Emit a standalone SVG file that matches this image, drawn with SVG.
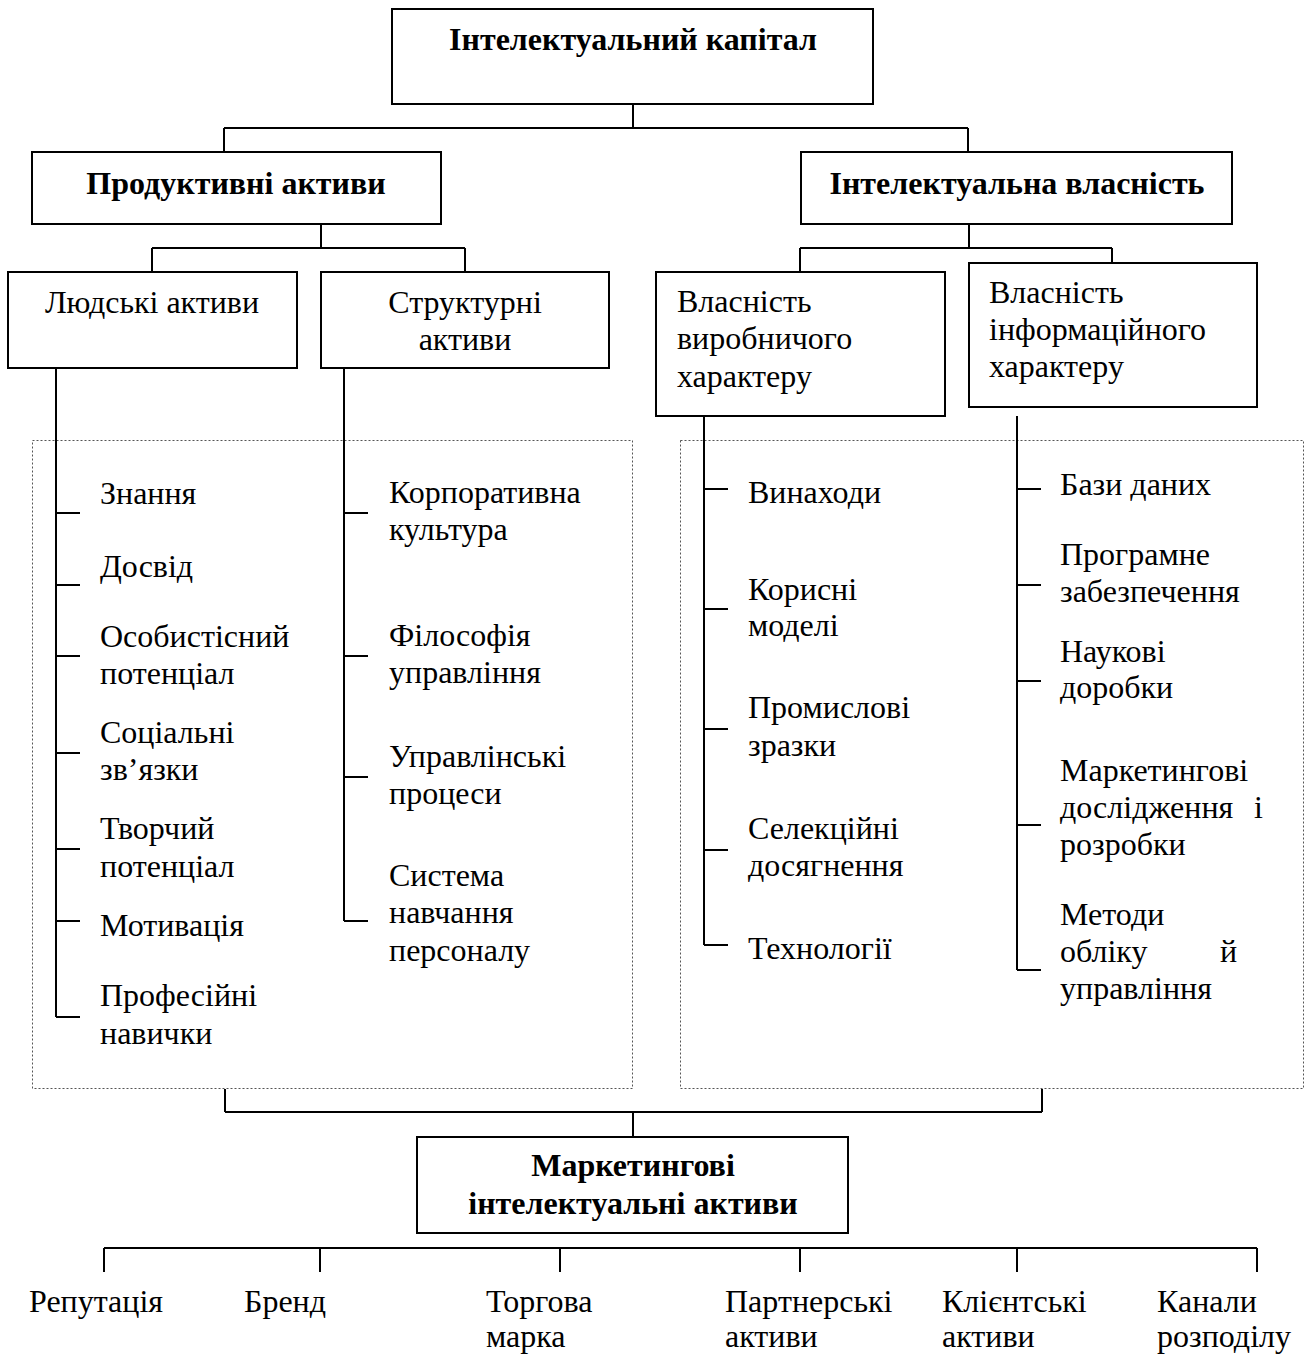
<svg xmlns="http://www.w3.org/2000/svg" width="1306" height="1355" viewBox="0 0 1306 1355">
<style>
text{font-family:"Liberation Serif","Times New Roman",serif;font-size:32px;fill:#000}
.b{font-weight:bold}
.c{text-anchor:middle}
.box{fill:#fff;stroke:#000;stroke-width:2}
.dot{fill:none;stroke:#555;stroke-width:1;stroke-dasharray:2 2}
.ln{fill:none;stroke:#000;stroke-width:2}
</style>
<rect width="1306" height="1355" fill="#fff"/>
<g id="groups">
<rect class="dot" x="32.5" y="440.5" width="600" height="648"/>
<rect class="dot" x="680.5" y="440.5" width="623" height="648"/>
</g>
<g id="connectors">
<path class="ln" d="M633 104V128M224 128H968M224 128V152M968 128V152"/>
<path class="ln" d="M321 224V248M152 248H465M152 248V272M465 248V272"/>
<path class="ln" d="M969 224V248M800 248H1112M800 248V272M1112 248V272"/>
<path class="ln" d="M56 368V1017M56 513H80M56 585H80M56 656H80M56 753H80M56 849H80M56 921H80M56 1017H80"/>
<path class="ln" d="M344 368V921M344 513H368M344 656H368M344 777H368M344 921H368"/>
<path class="ln" d="M704 416V945M704 489H728M704 609H728M704 729H728M704 850H728M704 945H728"/>
<path class="ln" d="M1017 416V970M1017 489H1041M1017 585H1041M1017 681H1041M1017 825H1041M1017 970H1041"/>
<path class="ln" d="M225 1089V1112M1042 1089V1112M225 1112H1042M633 1112V1137"/>
<path class="ln" d="M104 1248H1257M104 1248V1272M320 1248V1272M560 1248V1272M800 1248V1272M1017 1248V1272M1257 1248V1272"/>
</g>
<g id="n-root"><rect class="box" x="392" y="9" width="481" height="95"/><text class="b c" x="633" y="50">Інтелектуальний капітал</text></g>
<g id="n-prod"><rect class="box" x="32" y="152" width="409" height="72"/><text class="b c" x="236" y="194">Продуктивні активи</text></g>
<g id="n-iv"><rect class="box" x="801" y="152" width="431" height="72"/><text class="b c" x="1017" y="194">Інтелектуальна власність</text></g>
<g id="n-lud"><rect class="box" x="8" y="272" width="289" height="96"/><text class="c" x="152" y="313">Людські активи</text></g>
<g id="n-str"><rect class="box" x="321" y="272" width="288" height="96"/><text class="c" x="465" y="313">Структурні</text><text class="c" x="465" y="350">активи</text></g>
<g id="n-vyr"><rect class="box" x="656" y="272" width="289" height="144"/><text x="677" y="312">Власність</text><text x="677" y="349">виробничого</text><text x="677" y="387">характеру</text></g>
<g id="n-inf"><rect class="box" x="969" y="263" width="288" height="144"/><text x="989" y="303">Власність</text><text x="989" y="340">інформаційного</text><text x="989" y="377">характеру</text></g>
<g id="n-lud-items">
<text x="100" y="504">Знання</text>
<text x="100" y="577">Досвід</text>
<text x="100" y="647">Особистісний</text><text x="100" y="684">потенціал</text>
<text x="100" y="743">Соціальні</text><text x="100" y="780">зв’язки</text>
<text x="100" y="839">Творчий</text><text x="100" y="877">потенціал</text>
<text x="100" y="936">Мотивація</text>
<text x="100" y="1006">Професійні</text><text x="100" y="1044">навички</text>
</g>
<g id="n-str-items">
<text x="389" y="503">Корпоративна</text><text x="389" y="540">культура</text>
<text x="389" y="646">Філософія</text><text x="389" y="683">управління</text>
<text x="389" y="767">Управлінські</text><text x="389" y="804">процеси</text>
<text x="389" y="886">Система</text><text x="389" y="923">навчання</text><text x="389" y="961">персоналу</text>
</g>
<g id="n-vyr-items">
<text x="748" y="503">Винаходи</text>
<text x="748" y="600">Корисні</text><text x="748" y="636">моделі</text>
<text x="748" y="718">Промислові</text><text x="748" y="756">зразки</text>
<text x="748" y="839">Селекційні</text><text x="748" y="876">досягнення</text>
<text x="748" y="959">Технології</text>
</g>
<g id="n-inf-items">
<text x="1060" y="495">Бази даних</text>
<text x="1060" y="565">Програмне</text><text x="1060" y="602">забезпечення</text>
<text x="1060" y="662">Наукові</text><text x="1060" y="698">доробки</text>
<text x="1060" y="781">Маркетингові</text><text x="1060" y="818">дослідження</text><text x="1254" y="818">і</text><text x="1060" y="855">розробки</text>
<text x="1060" y="925">Методи</text><text x="1060" y="962">обліку</text><text x="1220" y="962">й</text><text x="1060" y="999">управління</text>
</g>
<g id="n-mark"><rect class="box" x="417" y="1137" width="431" height="96"/><text class="b c" x="633" y="1176">Маркетингові</text><text class="b c" x="633" y="1214">інтелектуальні активи</text></g>
<g id="n-mark-items">
<text x="29" y="1312">Репутація</text>
<text x="244" y="1312">Бренд</text>
<text x="486" y="1312">Торгова</text><text x="486" y="1347">марка</text>
<text x="725" y="1312">Партнерські</text><text x="725" y="1347">активи</text>
<text x="942" y="1312">Клієнтські</text><text x="942" y="1347">активи</text>
<text x="1157" y="1312">Канали</text><text x="1157" y="1347">розподілу</text>
</g>
</svg>
